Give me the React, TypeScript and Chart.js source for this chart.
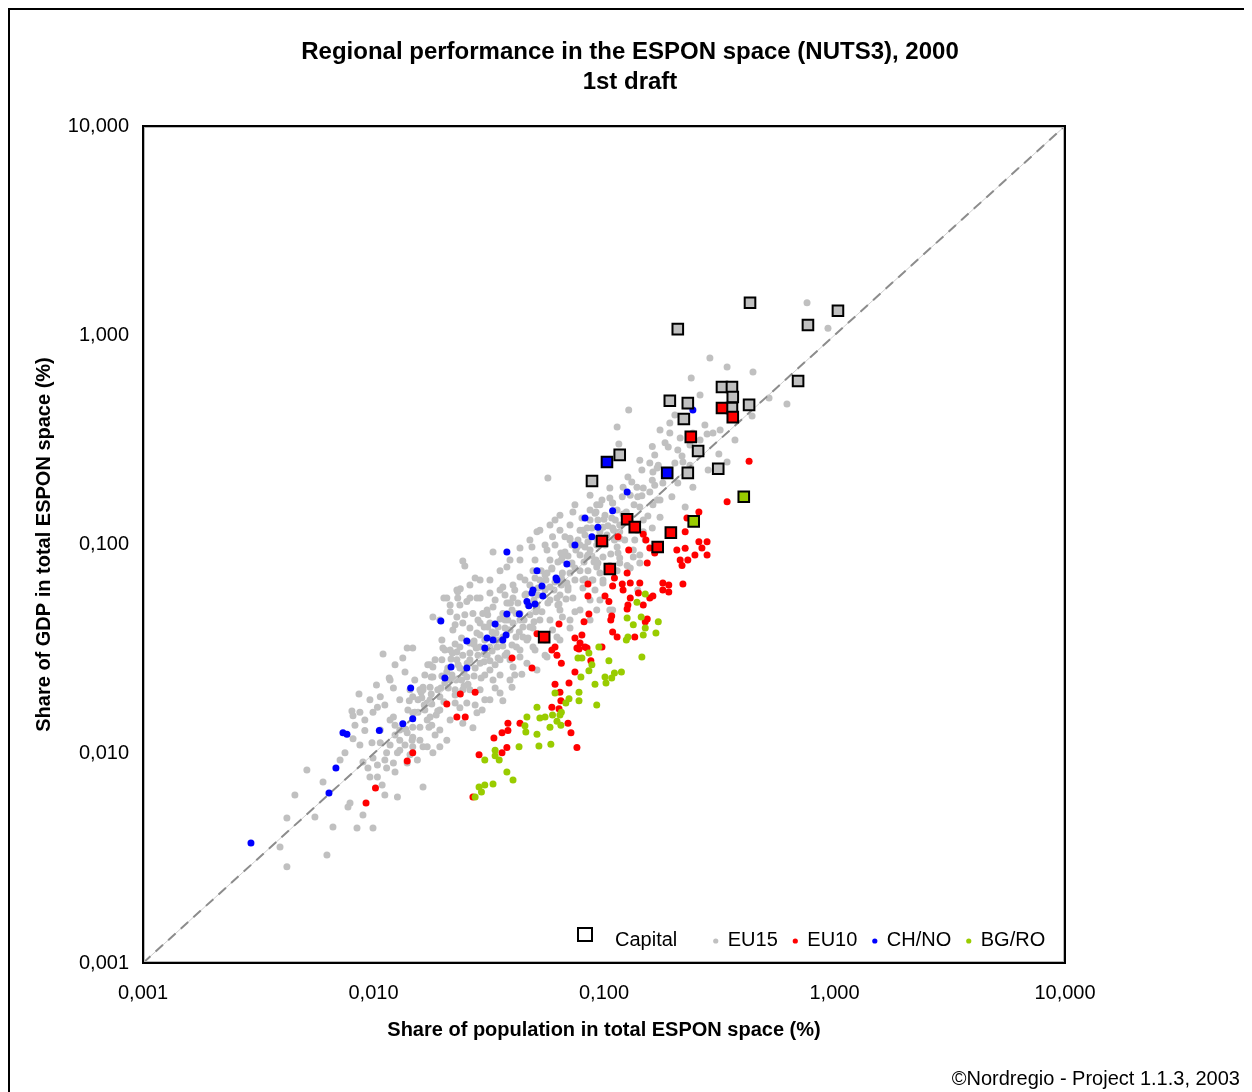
import React, { useEffect, useRef } from "react";
import { Chart, registerables } from "chart.js";

Chart.register(...registerables);

const FONT = "'Liberation Sans', Arial, Helvetica, sans-serif";

const titleLines = ["Regional performance in the ESPON space (NUTS3), 2000", "1st draft"];
const xAxisTitle = "Share of population in total ESPON space (%)";
const yAxisTitle = "Share of GDP in total ESPON space (%)";
const creditText = "\u00A9Nordregio - Project 1.1.3, 2003";

const axisTickValues = [0.001, 0.01, 0.1, 1, 10];
const axisTickLabels = ["0,001", "0,010", "0,100", "1,000", "10,000"];

// reference line: equal share of population and GDP
const parityPop = [0.001, 10];
const parityGdp = [0.001, 10];

// [share of population %, share of GDP %]
const eu15Points: [number, number][] = [
  [0.76,1.43],[0.937,1.08],[0.288,0.779],[0.342,0.706],[0.443,0.668],[0.239,0.625],[0.52,0.501],[0.622,0.469],[0.439,0.411],[0.193,0.381],[0.274,0.372],[0.297,0.341],[0.28,0.337],[0.162,0.294],[0.184,0.306],[0.19,0.292],[0.218,0.265],[0.214,0.323],[0.315,0.271],[0.342,0.248],[0.158,0.245],[0.17,0.232],[0.203,0.245],[0.22,0.248],[0.146,0.227],[0.163,0.222],[0.283,0.227],
  [0.128,0.439],[0.114,0.364],[0.243,0.341],[0.193,0.341],[0.116,0.302],[0.209,0.283],[0.172,0.239],[0.127,0.21],[0.106,0.186],[0.162,0.203],[0.18,0.197],[0.209,0.197],[0.243,0.188],[0.139,0.188],[0.12,0.169],[0.14,0.169],[0.158,0.178],[0.197,0.169],[0.225,0.151],[0.0733,0.143],[0.0914,0.141],[0.109,0.158],[0.143,0.151],[0.163,0.155],[0.175,0.135],[0.099,0.121],[0.112,0.131],[0.148,0.115],[0.0677,0.109],[0.0787,0.117],[0.0827,0.0973],[0.115,0.0911],[0.143,0.089],[0.0941,0.0816],[0.066,0.0731],[0.0886,0.0677],[0.14,0.0606],
  [0.121,0.188],[0.148,0.186],[0.13,0.172],[0.17,0.163],[0.098,0.163],[0.093,0.155],[0.114,0.146],[0.0613,0.131],[0.087,0.131],[0.081,0.117],[0.109,0.12],[0.148,0.131],[0.162,0.12],[0.139,0.117],[0.0512,0.115],[0.0598,0.109],[0.0712,0.107],[0.0763,0.0973],[0.0566,0.0942],[0.0487,0.0973],[0.033,0.0922],[0.0276,0.0692],[0.0432,0.0843],[0.0583,0.0843],[0.066,0.0872],[0.0844,0.0872],[0.099,0.0872],[0.093,0.078],[0.117,0.0816],[0.13,0.0772],[0.134,0.0872],[0.0379,0.078],[0.0492,0.075],[0.0566,0.0731],[0.0712,0.0731],[0.081,0.0677],[0.099,0.0677],[0.114,0.075],[0.0914,0.0606],[0.069,0.0655],[0.0583,0.0627],[0.0432,0.07],[0.0364,0.0627],[0.032,0.0586],[0.0281,0.0555],[0.0403,0.0555],[0.0625,0.0555],[0.0733,0.0555],[0.093,0.0487],[0.0787,0.0487],[0.0644,0.0487],[0.0512,0.0503],[0.0432,0.0468],[0.0364,0.0468],[0.0298,0.0468],[0.032,0.0422],[0.0403,0.0422],[0.0477,0.0403],[0.0583,0.0436],[0.0712,0.0436],[0.109,0.0487],[0.0281,0.0378],[0.0364,0.0361],[0.0445,0.0361],[0.0625,0.0361],[0.0492,0.0324],[0.0417,0.0324],[0.032,0.0324],
  [0.023,0.0606],[0.0208,0.0555],[0.0254,0.0534],[0.0215,0.0514],[0.029,0.0555],[0.0354,0.0606],[0.0403,0.0641],[0.033,0.0503],[0.0379,0.0525],[0.0311,0.0487],[0.027,0.0468],[0.023,0.045],[0.0181,0.045],[0.0198,0.035],[0.0221,0.039],[0.0244,0.0422],[0.029,0.0422],[0.014,0.032],[0.0148,0.032],[0.0134,0.0287],[0.011,0.03],[0.0176,0.0266],[0.0237,0.0324],[0.0262,0.0303],[0.029,0.0324],[0.023,0.0281],[0.029,0.0271],[0.0344,0.0324],[0.0354,0.0281],[0.032,0.0251],[0.0254,0.0233],[0.0215,0.0225],[0.0181,0.0233],[0.0176,0.0208],[0.0164,0.0202],[0.0118,0.0225],[0.0122,0.0206],[0.0194,0.0187],[0.0244,0.0202],[0.029,0.0202],[0.033,0.0225],[0.0354,0.0195],[0.032,0.0181],[0.0254,0.0175],[0.0176,0.015],[0.0215,0.0145],[0.0281,0.0157],[0.0194,0.013],[0.0159,0.0134],[0.0148,0.012],[0.013,0.0116],[0.013,0.0104],[0.0114,0.0101],[0.0164,0.0108],[0.0194,0.0108],[0.0122,0.00904],[0.0445,0.0403],[0.0463,0.035],[0.0403,0.026],[0.0463,0.0271],[0.0566,0.029],[0.0512,0.0251],[0.0432,0.029],[0.0391,0.0225],
  [0.0244,0.0835],[0.0249,0.079],[0.0232,0.0594],[0.0238,0.0615],[0.0202,0.0555],[0.0232,0.0555],[0.02,0.032],[0.022,0.0303],[0.0226,0.0335],[0.0172,0.0266],[0.0181,0.026],[0.0117,0.023],[0.0103,0.0213],[0.00865,0.0193],[0.0107,0.0187],[0.0164,0.0208],
  [0.00806,0.016],[0.00873,0.0158],[0.00995,0.0158],[0.0104,0.0167],[0.00815,0.0152],[0.00917,0.0129],[0.0124,0.0123],[0.00985,0.0113],[0.0107,0.0113],[0.00815,0.0118],[0.00752,0.0101],[0.00716,0.00934],[0.009,0.00914],[0.00995,0.00955],[0.0127,0.0101],[0.0104,0.00883],[0.00514,0.00837],[0.00946,0.00855],[0.0114,0.00855],[0.0124,0.00818],[0.00604,0.00733],[0.00965,0.00774],[0.0104,0.00774],[0.00456,0.00635],[0.0109,0.00709],[0.0112,0.00635],[0.0127,0.00622],[0.00775,0.00557],[0.00791,0.00582],[0.00557,0.00499],[0.00421,0.00493],[0.009,0.00509],[0.00667,0.00447],[0.00848,0.00442],[0.00995,0.00442],[0.00393,0.00358],[0.00628,0.00328],[0.00421,0.00288],
  [0.0148,0.0187],[0.0159,0.0202],[0.0171,0.0175],[0.0148,0.0157],[0.0171,0.0145],[0.0148,0.0134],[0.0159,0.0116],[0.0148,0.0108],[0.0171,0.0108],[0.0181,0.0101],[0.014,0.0126],[0.0144,0.00988],[0.014,0.00904],[0.0164,0.00693],
  [0.0262,0.0338],[0.044,0.024],[0.0399,0.0208],[0.0364,0.0179],[0.0296,0.0162],[0.027,0.0133],[0.0244,0.014],
  [0.0653,0.0843],[0.0787,0.075],[0.0895,0.0677],[0.096,0.0731],[0.117,0.0862],[0.134,0.0942],[0.143,0.0816],[0.106,0.0487],[0.0748,0.0477],[0.066,0.045],[0.0598,0.039],[0.0555,0.0296],[0.114,0.0973],[0.126,0.0794],[0.087,0.0543],[0.081,0.062],[0.099,0.0655],
  [0.0176,0.0181],[0.019,0.0202],[0.0204,0.0218],[0.0219,0.0238],[0.0237,0.0257],[0.0208,0.0246],[0.0226,0.0202],[0.0262,0.0281],[0.0284,0.0296],[0.0304,0.035],[0.0327,0.0382],[0.0347,0.0403],[0.0372,0.0436],[0.0399,0.0487],[0.0423,0.0525],[0.0454,0.0574],[0.0477,0.0641],[0.0527,0.0677],[0.0555,0.0715],[0.0594,0.0772],[0.0631,0.0825],[0.0677,0.0922],[0.0726,0.0995],[0.0771,0.105],[0.0827,0.111],[0.0886,0.12],[0.0941,0.131],[0.101,0.138],[0.108,0.134],[0.103,0.111],[0.093,0.0995],[0.087,0.0942],[0.0787,0.089],[0.0726,0.0816],[0.0653,0.0692],[0.0613,0.0662],[0.0555,0.0606],[0.0517,0.0574],[0.0468,0.0514],[0.0432,0.0436],[0.0383,0.039],[0.0347,0.035],[0.0311,0.0296],[0.0276,0.0257],[0.0241,0.0225],[0.0226,0.0191],[0.0194,0.0162],[0.0179,0.0137],[0.0198,0.0281],[0.0215,0.0313],[0.0241,0.0357],[0.0262,0.0399],[0.0284,0.0436],[0.0313,0.0461],[0.0337,0.0543],[0.0372,0.0574],[0.041,0.0606],[0.0454,0.0677],[0.0502,0.0843],[0.0555,0.0995],[0.0613,0.0995],[0.0644,0.117],[0.0712,0.124],[0.0802,0.134],[0.087,0.146],[0.096,0.155],[0.106,0.167],[0.0262,0.0202],[0.0237,0.0166],[0.0304,0.0238],[0.0337,0.0266],[0.0372,0.0296],[0.0399,0.0331],[0.0527,0.0436],[0.0477,0.0461],[0.0571,0.0525],[0.0644,0.0574],[0.0698,0.0606],[0.0748,0.0677],[0.0852,0.075],[0.106,0.0794],[0.123,0.105],[0.136,0.105],[0.117,0.124],[0.126,0.131],[0.151,0.105],[0.0167,0.0162],[0.0156,0.0181],[0.0141,0.0162],[0.0185,0.0123],[0.0208,0.0116],[0.0155,0.00934],[0.013,0.013],[0.0118,0.0145],[0.0112,0.0171],[0.00917,0.0145],[0.0262,0.0641],[0.029,0.0677],[0.0571,0.208],
  [0.0156,0.0158],[0.0166,0.0171],[0.0187,0.0153],[0.0202,0.0177],[0.0178,0.0193],[0.0162,0.0185],[0.0211,0.0206],[0.0228,0.0225],[0.0247,0.0243],[0.0198,0.0235],[0.0233,0.0266],[0.0257,0.0215],[0.0273,0.0235],[0.0217,0.0284],[0.0244,0.0296],[0.0279,0.032],[0.0302,0.0275],[0.0327,0.031],[0.0347,0.0287],[0.029,0.0369],[0.0313,0.0403],[0.034,0.0378],[0.0364,0.0327],[0.0273,0.0346],[0.0391,0.0281],
  [0.0383,0.0436],[0.0415,0.0468],[0.045,0.0436],[0.0497,0.0427],[0.0393,0.0525],[0.0429,0.0382],[0.0468,0.0357],[0.0506,0.0477],[0.0372,0.0399],[0.0517,0.062],[0.056,0.0677],[0.0607,0.0606],[0.0653,0.0641],[0.0534,0.075],[0.0583,0.0543],[0.0497,0.0543],[0.0631,0.0514],[0.0684,0.0549],
  [0.0698,0.0882],[0.0755,0.0942],[0.0819,0.0825],[0.0886,0.0882],[0.0712,0.105],[0.0787,0.0995],[0.0852,0.103],[0.0748,0.0772],[0.0923,0.0843],[0.096,0.115],[0.104,0.123],[0.111,0.105],[0.0923,0.143],[0.101,0.0995],[0.117,0.115],[0.125,0.143],[0.135,0.155],[0.146,0.171],[0.155,0.137],[0.132,0.199],[0.166,0.192],[0.175,0.163],
  [0.0432,0.0313],[0.0502,0.0313],[0.0555,0.035],[0.0644,0.035],[0.0712,0.0399],[0.087,0.0436],[0.096,0.0543],[0.041,0.0238],[0.0354,0.0238],[0.0337,0.0206],[0.0304,0.0181],[0.0276,0.0171],
  [0.0194,0.0436],[0.0215,0.0477],[0.0237,0.0514],[0.0262,0.0555],[0.032,0.0677],[0.0354,0.075],[0.0391,0.0843],[0.0432,0.0963],[0.0477,0.105],[0.0527,0.117],[0.0583,0.124],[0.0644,0.138],[0.0748,0.155],[0.087,0.172],
  [0.0107,0.013],[0.0118,0.011],[0.0137,0.011],[0.0124,0.0137],[0.0112,0.00934],[0.00873,0.011],[0.00831,0.0137],[0.00965,0.0181],[0.013,0.0181],[0.0144,0.0202],
  [0.0226,0.0413],[0.0249,0.0461],[0.0204,0.0313],[0.0185,0.0281],[0.0167,0.0238],[0.0151,0.0225],[0.0137,0.0246],[0.0124,0.0266],
  [0.143,0.253],[0.166,0.268],[0.236,0.299],[0.261,0.316],[0.175,0.353],[0.203,0.416],[0.261,0.518],[0.319,0.353],[0.37,0.316],[0.236,0.239],
  [0.0122,0.015],[0.0143,0.0179],[0.0161,0.0197],[0.0178,0.0233],[0.021,0.0257],[0.023,0.0306],[0.0273,0.0334],[0.0302,0.0403],[0.0354,0.044],[0.0387,0.0525],[0.0459,0.058],[0.0502,0.0692],[0.0594,0.0764],[0.065,0.0911],[0.0771,0.101],[0.0844,0.12],[0.1,0.132],[0.109,0.158],
  [0.0138,0.0131],[0.0151,0.0158],[0.0179,0.0173],[0.0196,0.0206],[0.0233,0.0228],[0.0255,0.0271],[0.0302,0.03],[0.033,0.0357],[0.0391,0.039],[0.0429,0.0468],[0.0507,0.0514],[0.0555,0.0613],[0.0656,0.0677],[0.0719,0.0807],[0.0852,0.0891],[0.0932,0.106],[0.11,0.117],[0.121,0.14],
  [0.0147,0.0116],[0.0174,0.0134],[0.019,0.016],[0.0226,0.0175],[0.0247,0.0211],[0.0293,0.023],[0.032,0.0278],[0.0379,0.0303],[0.0415,0.0361],[0.0492,0.0399],[0.0538,0.0477],[0.0638,0.0519],[0.0698,0.0627],[0.0827,0.0684],[0.0905,0.0825],[0.107,0.0901],[0.117,0.107],
];

const eu10Points: [number, number][] = [
  [0.0148,0.0101],[0.014,0.00924],[0.0102,0.00686],[0.00928,0.00582],[0.0238,0.0193],[0.0276,0.0197],[0.0208,0.0173],[0.023,0.015],[0.025,0.015],[0.0383,0.014],[0.0432,0.014],[0.0383,0.0129],[0.0361,0.0126],[0.0333,0.0119],[0.0379,0.0107],[0.0361,0.0101],[0.0287,0.00988],[0.027,0.00622],
  [0.0638,0.0417],[0.0512,0.0375],[0.0594,0.0313],[0.0625,0.0296],[0.0653,0.0271],[0.0399,0.0287],[0.0487,0.0257],[0.0748,0.0357],[0.0763,0.032],[0.0748,0.0246],[0.0705,0.0218],[0.0644,0.0197],[0.065,0.0179],[0.0594,0.0167],[0.0638,0.0164],[0.0698,0.014],[0.0719,0.0126],[0.0763,0.0107],[0.0613,0.0324],[0.0779,0.0317],[0.0827,0.0324],[0.0877,0.0278],[0.098,0.0324],[0.0613,0.0215],
  [0.128,0.0942],[0.154,0.0816],[0.126,0.0731],[0.0852,0.0648],[0.111,0.0692],[0.12,0.0648],[0.13,0.0655],[0.143,0.0655],[0.121,0.0606],[0.141,0.0586],[0.13,0.0555],[0.158,0.0555],[0.163,0.0567],[0.101,0.0567],[0.105,0.0534],[0.127,0.0514],[0.126,0.0492],[0.0852,0.0567],[0.086,0.0466],[0.0819,0.0427],[0.108,0.0455],[0.107,0.0436],[0.154,0.0441],[0.151,0.0427],[0.109,0.0382],[0.114,0.0361],[0.136,0.0361],[0.0802,0.0369],[0.0844,0.032],
  [0.207,0.0942],[0.225,0.096],[0.214,0.0843],[0.231,0.0843],[0.218,0.0794],[0.248,0.089],[0.266,0.0963],[0.28,0.089],[0.258,0.103],[0.28,0.103],[0.18,0.0655],[0.191,0.0641],[0.18,0.0606],[0.191,0.0593],[0.22,0.0648],
  [0.426,0.25],[0.342,0.16],[0.258,0.143],[0.229,0.134],[0.225,0.115],[0.115,0.109],[0.148,0.112],[0.152,0.105],[0.158,0.0963],[0.166,0.0911],[0.109,0.0634],[0.148,0.0514],[0.0787,0.0338],
];

const chnoPoints: [number, number][] = [
  [0.00294,0.00375],[0.00641,0.00649],[0.00687,0.00855],[0.00737,0.0126],[0.00767,0.0124],[0.0106,0.0129],[0.0134,0.0139],[0.0148,0.0147],[0.0145,0.0206],[0.0196,0.0431],[0.0204,0.023],[0.0217,0.026],[0.0254,0.0257],[0.0254,0.0346],[0.0304,0.032],[0.0311,0.0357],[0.033,0.035],[0.0364,0.035],[0.0376,0.0369],[0.0337,0.0417],[0.0379,0.0466],[0.0429,0.0466],[0.0463,0.0534],[0.0472,0.0509],[0.0502,0.0519],[0.0487,0.0586],[0.0492,0.0606],[0.0543,0.0567],[0.0538,0.0634],[0.0625,0.0677],[0.0379,0.0922],[0.0512,0.075],[0.069,0.0807],[0.0619,0.0692],[0.0748,0.0995],[0.0827,0.134],[0.0941,0.121],[0.0886,0.109],[0.109,0.145],[0.126,0.178],[0.243,0.439],
];

const bgroPoints: [number, number][] = [
  [0.146,0.029],[0.125,0.035],[0.105,0.0278],[0.095,0.0324],[0.086,0.0303],[0.0771,0.0287],[0.0802,0.0287],[0.0886,0.0266],[0.086,0.0249],[0.0794,0.0233],[0.0914,0.0215],[0.101,0.0233],[0.102,0.0218],[0.108,0.023],[0.111,0.0243],[0.119,0.0246],[0.0779,0.0197],[0.0779,0.0179],[0.0705,0.0183],[0.0683,0.0175],[0.093,0.0171],[0.0653,0.0158],[0.0644,0.0153],[0.0625,0.0143],[0.065,0.0137],[0.0598,0.0153],[0.0613,0.0195],[0.0512,0.0167],[0.0463,0.015],[0.0527,0.0148],[0.0555,0.015],[0.0454,0.0136],[0.0458,0.0127],[0.0583,0.0134],[0.0512,0.0124],[0.0522,0.0109],[0.0588,0.0111],[0.0428,0.0108],[0.0337,0.0104],[0.0337,0.00977],[0.0351,0.00934],[0.0304,0.00934],[0.0379,0.00818],[0.0403,0.00749],[0.033,0.00717],[0.0287,0.00693],[0.0304,0.00709],[0.0294,0.00656],[0.0276,0.00622],
  [0.151,0.058],[0.139,0.0529],[0.126,0.0446],[0.145,0.045],[0.172,0.0427],[0.134,0.0413],[0.151,0.0399],[0.168,0.0378],[0.148,0.0369],[0.127,0.0361],
];

// capital regions, with the group each belongs to
const capitalPoints: [number, number][] = [
  [0.43,1.43],[0.209,1.07],[1.035,1.31],[0.767,1.12],[0.695,0.604],[0.325,0.566],[0.359,0.566],[0.362,0.507],[0.359,0.449],[0.426,0.465],[0.193,0.486],[0.231,0.474],[0.222,0.398],[0.256,0.28],[0.231,0.22],[0.313,0.23],[0.117,0.268],[0.0887,0.201],
  [0.325,0.449],[0.362,0.406],[0.238,0.327],[0.126,0.132],[0.136,0.121],[0.098,0.104],[0.195,0.114],[0.171,0.0973],[0.106,0.0764],[0.055,0.0361],
  [0.103,0.248],[0.188,0.22],
  [0.404,0.169],[0.245,0.129],
];
const capitalGroups = [
  "EU15","EU15","EU15","EU15","EU15","EU15","EU15","EU15","EU15","EU15","EU15","EU15","EU15","EU15","EU15","EU15","EU15","EU15",
  "EU10","EU10","EU10","EU10","EU10","EU10","EU10","EU10","EU10","EU10",
  "CH/NO","CH/NO",
  "BG/RO","BG/RO",
];

const groupNames = ["EU15", "EU10", "CH/NO", "BG/RO"];
const groupColors: Record<string, string> = {
  "EU15": "#c0c0c0",
  "EU10": "#ff0000",
  "CH/NO": "#0000ff",
  "BG/RO": "#99cc00",
};

const toXY = (pts: [number, number][]) => pts.map(([x, y]) => ({ x, y }));

const dotDataset = (label: string, pts: [number, number][]) => ({
  label,
  data: toXY(pts),
  pointRadius: 3.5,
  pointHoverRadius: 3.5,
  pointBackgroundColor: groupColors[label],
  pointBorderColor: groupColors[label],
  pointBorderWidth: 0,
  showLine: false,
});

// frame around the plotting area
const framePlugin = {
  id: "plotFrame",
  afterDatasetsDraw(chart: any) {
    const { ctx, chartArea } = chart;
    const { left, top, right, bottom } = chartArea;
    ctx.save();
    ctx.strokeStyle = "#b8b8b8";
    ctx.lineWidth = 1;
    ctx.strokeRect(left + 1.5, top + 1.5, right - left - 3, bottom - top - 3);
    ctx.strokeStyle = "#000";
    ctx.lineWidth = 2;
    ctx.strokeRect(left, top, right - left, bottom - top);
    ctx.restore();
  },
};

// legend drawn inside the plot, along the bottom edge
const legendPlugin = {
  id: "insideLegend",
  afterDraw(chart: any) {
    const { ctx, chartArea } = chart;
    const y = chartArea.bottom - 23;
    let x = chartArea.left + 435;
    ctx.save();
    ctx.font = `20px ${FONT}`;
    ctx.textBaseline = "middle";
    ctx.textAlign = "left";
    ctx.fillStyle = "#fff";
    ctx.fillRect(x, y - 12, 14, 13);
    ctx.strokeStyle = "#000";
    ctx.lineWidth = 2;
    ctx.strokeRect(x, y - 12, 14, 13);
    ctx.fillStyle = "#000";
    x += 37;
    ctx.fillText("Capital", x, y);
    x += ctx.measureText("Capital").width + 38.5;
    for (const name of groupNames) {
      ctx.fillStyle = groupColors[name];
      ctx.beginPath();
      ctx.arc(x, y + 1, 2.6, 0, Math.PI * 2);
      ctx.fill();
      ctx.fillStyle = "#000";
      ctx.fillText(name, x + 12, y);
      x += 12 + ctx.measureText(name).width + 17.5;
    }
    ctx.restore();
  },
};

const logAxis = (title: string, isX: boolean) => ({
  type: "logarithmic" as const,
  position: isX ? ("bottom" as const) : ("left" as const),
  min: axisTickValues[0],
  max: axisTickValues[axisTickValues.length - 1],
  grid: { display: false, drawTicks: false },
  border: { display: false },
  afterBuildTicks: (axis: any) => {
    axis.ticks = axisTickValues.map((value) => ({ value }));
  },
  afterFit: (axis: any) => {
    if (isX) axis.height = 95;
    else axis.width = 135;
  },
  ticks: {
    autoSkip: false,
    maxRotation: 0,
    padding: isX ? 18 : 14,
    color: "#000",
    font: { family: FONT, size: 20 },
    callback: (_v: any, i: number) => axisTickLabels[i],
  },
  title: {
    display: true,
    text: title,
    color: "#000",
    font: { family: FONT, size: 20, weight: "bold" as const },
    padding: isX ? { top: 0, bottom: 16 } : { top: 24, bottom: 0 },
  },
});

export default function App() {
  const canvasRef = useRef<HTMLCanvasElement | null>(null);

  useEffect(() => {
    const canvas = canvasRef.current;
    if (!canvas) return;

    const capitalColors = capitalGroups.map((g) => groupColors[g]);

    const chart = new Chart(canvas, {
      type: "scatter",
      data: {
        datasets: [
          {
            label: "Capital",
            data: toXY(capitalPoints),
            pointStyle: "rect",
            pointRadius: 7.5,
            pointHoverRadius: 7.5,
            pointBackgroundColor: capitalColors,
            pointBorderColor: "#000",
            pointBorderWidth: 2,
            showLine: false,
          } as any,
          dotDataset("BG/RO", bgroPoints),
          dotDataset("CH/NO", chnoPoints),
          dotDataset("EU10", eu10Points),
          {
            label: "parity dash",
            data: parityPop.map((x, i) => ({ x, y: parityGdp[i] })),
            showLine: true,
            pointRadius: 0,
            borderColor: "#8c8c8c",
            borderWidth: 2,
            borderDash: [10, 7],
            fill: false,
          } as any,
          {
            label: "parity",
            data: parityPop.map((x, i) => ({ x, y: parityGdp[i] })),
            showLine: true,
            pointRadius: 0,
            borderColor: "#cfcfcf",
            borderWidth: 1,
            fill: false,
          } as any,
          dotDataset("EU15", eu15Points),
        ],
      },
      options: {
        responsive: false,
        animation: false,
        events: [],
        layout: { padding: { left: 0, right: 0, top: 0, bottom: 34 } },
        plugins: {
          legend: { display: false },
          tooltip: { enabled: false },
          title: {
            display: true,
            text: titleLines,
            color: "#000",
            font: { family: FONT, size: 24, weight: "bold", lineHeight: 1.25 },
            padding: { top: 29, bottom: 29 },
          },
        },
        scales: {
          x: logAxis(xAxisTitle, true) as any,
          y: logAxis(yAxisTitle, false) as any,
          rightMargin: {
            type: "linear",
            position: "right",
            display: true,
            grid: { display: false, drawTicks: false },
            border: { display: false },
            ticks: { display: false },
            afterFit: (axis: any) => {
              axis.width = 187;
            },
          } as any,
        },
      },
      plugins: [framePlugin, legendPlugin],
    });

    return () => chart.destroy();
  }, []);

  return (
    <div style={{ position: "relative", width: 1244, height: 1084 }}>
      <style>{"html, body { overflow: hidden; }"}</style>
      <div
        style={{
          position: "absolute",
          left: 0,
          top: 0,
          width: 1243,
          height: 1200,
          border: "2px solid #000",
          boxSizing: "border-box",
        }}
      />
      <canvas
        ref={canvasRef}
        width={1244}
        height={1084}
        style={{ position: "absolute", left: 0, top: 0, width: 1244, height: 1084 }}
      />
      <div
        style={{
          position: "absolute",
          right: 12,
          top: 1058,
          font: `20px ${FONT}`,
          lineHeight: "24px",
          color: "#000",
          whiteSpace: "nowrap",
        }}
      >
        {creditText}
      </div>
    </div>
  );
}
